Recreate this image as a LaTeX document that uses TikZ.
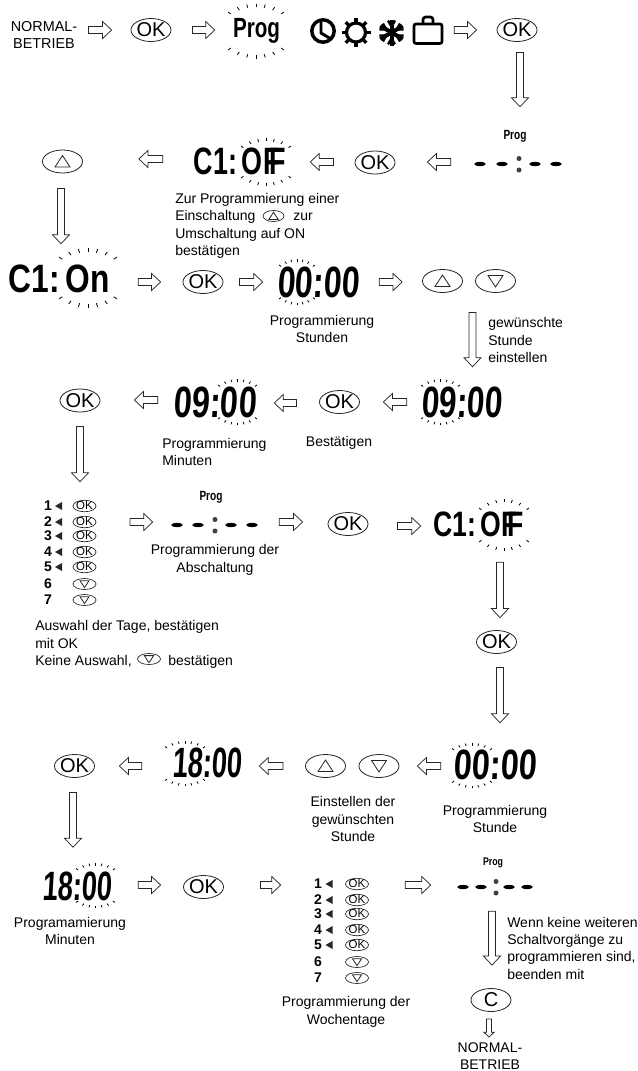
\documentclass[tikz,border=0pt]{standalone}
\usepackage{fontspec}
\usepackage{graphicx}
\setmainfont{Liberation Sans}
\usetikzlibrary{calc,shapes.geometric}
\newdimen\px \px=.75pt
\newcommand\okt{\makebox[0pt]{OK}}
\newcommand\okts{\makebox[0pt]{\fontsize{8.6}{8.6}\selectfont OK}}
\tikzset{
  ink/.style={draw=black!85},
  blk/.style n args={3}{ink,line width=.55pt,fill=white,line join=miter,to path={
    ($(\tikztostart)!#1!90:(\tikztotarget)$)
    -- ($(\tikztotarget)!#3!(\tikztostart)!#1!90:(\tikztotarget)$)
    -- ($(\tikztotarget)!#3!(\tikztostart)!#2!90:(\tikztotarget)$)
    -- (\tikztotarget)
    -- ($(\tikztotarget)!#3!(\tikztostart)!#2!-90:(\tikztotarget)$)
    -- ($(\tikztotarget)!#3!(\tikztostart)!#1!-90:(\tikztotarget)$)
    -- ($(\tikztostart)!#1!-90:(\tikztotarget)$) -- cycle}},
  blkn/.style={blk={2.625pt}{6.375pt}{6.75pt}},
  blks/.style={blk={1.9pt}{3.8pt}{3.75pt}},
  btn/.style={ellipse,ink,line width=.6pt,minimum width=40\px,minimum height=23\px,inner sep=0pt,font=\fontsize{15}{15}\selectfont},
  btns/.style={ellipse,ink,line width=.5pt,minimum width=23\px,minimum height=11\px,inner sep=0pt},
  tri/.style={ink,line width=.6pt,line join=miter},
  txt/.style={inner sep=0pt,font=\fontsize{10.5}{13}\selectfont},
  lcd/.style={inner sep=0pt,xslant=.06,font=\bfseries\fontsize{30}{30}\selectfont},
  big/.style={inner sep=0pt,font=\bfseries\fontsize{30}{30}\selectfont},
  blank/.style={inner sep=0pt,minimum width=#1\px},
  ray/.style={draw=black,line width=.6pt},
  icon/.style={draw=black,line width=2.6pt},
  dayn/.style={inner sep=0pt,font=\bfseries\fontsize{10.5}{10.5}\selectfont}
}
% box of the exact width and height (px) holding real text
\newcommand\fitbox[3]{\resizebox*{#1\px}{#2\px}{#3}}
\newcommand\hconn[5]{% a, gap, b, gap, y ; left to right
  \coordinate (cs) at ($(#1.east |- 0,#5)+(#2,0)$);
  \coordinate (ce) at ($(#3.west |- 0,#5)+(-#4,0)$);
  \draw[blkn] (cs) to (ce);}
\newcommand\lconn[5]{% right to left
  \coordinate (cs) at ($(#1.west |- 0,#5)+(-#2,0)$);
  \coordinate (ce) at ($(#3.east |- 0,#5)+(#4,0)$);
  \draw[blkn] (cs) to (ce);}
\newcommand\vconn[6][blkn]{% a, gap, b, gap, x ; downwards
  \coordinate (cs) at ($(#2.south -| #6,0)+(0,#3)$);
  \coordinate (ce) at ($(#4.north -| #6,0)+(0,-#5)$);
  \draw[#1] (cs) to (ce);}
\newcommand\rays[6]{%
  \foreach \t in {-1,-.667,-.333,0,.333,.667,1}{
    \pgfmathsetmacro\hh{#4-(#4-#5)*\t*\t}
    \pgfmathsetmacro\aa{\t*55}
    \draw[ray] ({#1+#3*\t},{#2-\hh}) -- ++({-#6*sin(\aa)},{#6*cos(\aa)});
    \draw[ray] ({#1+#3*\t},{#2+\hh}) -- ++({-#6*sin(\aa)},{-#6*cos(\aa)});
  }}
\newcommand\uptri[2][1]{\draw[tri,scale around={#1:(#2.center)}] ($(#2.center)+(-7.5,5.5)$) -- ($(#2.center)+(7.5,5.5)$) -- ($(#2.center)+(0,-6)$) -- cycle;}
\newcommand\dntri[2][1]{\draw[tri,scale around={#1:(#2.center)}] ($(#2.center)+(-7.5,-5.5)$) -- ($(#2.center)+(7.5,-5.5)$) -- ($(#2.center)+(0,6)$) -- cycle;}
\newcommand\dashrow[9]{% name,cx,cy,a,b,c,d,e,scale
  \node[blank=#9,minimum height=16\px] (#1) at (#2,#3) {};
  \foreach \q in {#4,#5,#7,#8}{
    \fill[black] ({#2+\q},#3) ellipse [x radius=5.8,y radius=2.1];}
  \fill[black!75] ({#2+#6},{#3-5.5}) circle [radius=2.5];
  \fill[black!75] ({#2+#6},{#3+6}) circle [radius=2.5];}
\newcommand\daylist[5]{% name,xdigit,xtri,xbtn,ytop (px of first row)
  \node[blank=55,minimum height=110\px] (#1) at ({(#2+#4)/2+2},{#5+47}) {};
  \foreach \i/\dy in {1/0,2/16,3/30,4/46,5/61,6/78,7/94}{
    \node[dayn] (#1d\i) at (#2,{#5+\dy}) {\i};
    \ifnum\i<6
      \fill[black!85] (#3-3.5,{#5+\dy}) -- (#3+3.5,{#5+\dy-4}) -- (#3+3.5,{#5+\dy+4}) -- cycle;
      \node[btns] (#1b\i) at (#4,{#5+\dy}) {\okts};
    \else
      \node[btns] (#1b\i) at (#4,{#5+\dy}) {};
      \dntri[.6]{#1b\i}
    \fi
  }}
\begin{document}
\begin{tikzpicture}[x=.75pt,y=-.75pt]
\useasboundingbox (0,0) rectangle (638,1071);
\fill[white] (0,0) rectangle (638,1071);
% --- row 1
\node[txt,align=center,font=\fontsize{10.8}{13}\selectfont] (norm1) at (44,35) {NORMAL-\\BETRIEB};
\node[btn] (ok1) at (151,30) {\okt};
\node[inner sep=0pt] (prog1) at (256.5,31) {\fitbox{47}{25}{\bfseries Prog}};
\rays{256}{31}{28}{27.5}{19}{3.5}
% icons
\node[blank=26,minimum height=26\px] (clock) at (323,31) {};
\draw[icon] (clock.center) circle [radius=11.2];
\draw[icon,line width=2.2pt,line join=round] (321,20) -- (321,33) -- (331,39);
\node[blank=30,minimum height=30\px] (sun) at (356,32.5) {};
\draw[icon,line width=2.4pt] (sun.center) circle [radius=9.5];
\foreach \a in {0,45,...,315}{\draw[icon,line width=2.4pt] ($(sun.center)+(\a:10)$) -- ($(sun.center)+(\a:14.5)$);}
\node[blank=26,minimum height=29\px] (snow) at (391.5,32.5) {};
\foreach \a in {30,90,150}{
  \draw[icon,line width=3pt] ($(snow.center)+(\a:13)$) -- ($(snow.center)+(\a+180:13)$);}
\foreach \a in {30,90,150,210,270,330}{
  \draw[icon,line width=1.8pt] ($(snow.center)+(\a:9)+(\a+50:4.5)$) -- ($(snow.center)+(\a:6)$) -- ($(snow.center)+(\a:9)+(\a-50:4.5)$);}
\node[blank=30,minimum height=28\px] (suit) at (428,30) {};
\draw[icon,line width=2pt,rounded corners=1.5pt] (414,24) rectangle (442,43.5);
\draw[icon,line width=2pt,rounded corners=2pt] (423,24) -- (423,17) -- (433,17) -- (433,24);
\node[btn] (ok2) at (517,30) {\okt};
\hconn{norm1}{11}{ok1}{19}{30}
\hconn{ok1}{21}{prog1}{18}{30}
\hconn{suit}{11}{ok2}{20}{30}
% --- row 2
\node[inner sep=0pt] (prog2) at (515,136) {\fitbox{23}{12}{\bfseries Prog}};
\dashrow{dash1}{518.5}{164}{-38.5}{-16.5}{.5}{16.5}{37.5}{87}
\vconn{ok2}{10.5}{prog2}{23}{520}
\node[btn] (okA) at (375,162.5) {\okt};
\node[inner sep=0pt] (coff1) at (240,161.5) {\fitbox{92}{27}{\bfseries C1:\,O\kern.02emF\kern-.38emF}};
\rays{266}{162}{25}{24}{16}{3}
\node[btn] (up1) at (62.5,161.5) {};
\uptri{up1}
\lconn{dash1}{24}{okA}{32}{162}
\lconn{okA}{21}{coff1}{24}{162}
\lconn{coff1}{31}{up1}{56}{159}
\node[txt,align=left,anchor=west] (tzur) at (175,226) {Zur Programmierung einer\\Einschaltung\hspace{25.5pt} zur\\Umschaltung auf ON\\bestätigen};
\node[btns,minimum width=21\px] (bzur) at (273.5,216) {};
\uptri[.62]{bzur}
% --- row 3
\node[inner sep=0pt] (con1) at (59.5,279) {\fitbox{101}{28}{\bfseries C1:\,O\kern.02emn}};
\rays{88}{278}{29}{30}{21}{4}
\vconn{up1}{15}{con1}{21}{61}
\node[btn] (okB) at (203,282) {\okt};
\node[lcd] (t00a) at (319,282) {\fitbox{82}{31}{00:00}};
\rays{297}{282}{18}{23}{17}{2.5}
\node[btn] (upB) at (442.5,281) {};
\uptri{upB}
\node[btn] (dnB) at (495.5,281) {};
\dntri{dnB}
\hconn{con1}{28}{okB}{22}{282}
\hconn{okB}{16}{t00a}{15}{282}
\hconn{t00a}{19}{upB}{20}{282}
\node[txt,align=center] (tstd) at (322,329) {Programmierung\\Stunden};
\node[txt,align=left,anchor=west] (tgew) at (488,340) {gewünschte\\Stunde\\einstellen};
% --- row 4
\node[lcd] (t09a) at (462.5,402.5) {\fitbox{81}{31}{09:00}};
\rays{440.5}{402}{19.5}{23}{17}{2.5}
\vconn{dnB}{19.5}{t09a}{20}{472.5}
\node[btn] (okC) at (339.5,402) {\okt};
\node[lcd] (t09b) at (215.5,402) {\fitbox{83}{31}{09:00}};
\rays{237.5}{402}{19.5}{23}{17}{2.5}
\node[btn] (okD) at (80,400.5) {\okt};
\lconn{t09a}{15}{okC}{23.5}{402}
\lconn{okC}{22.5}{t09b}{17}{403}
\lconn{t09b}{16}{okD}{34}{400}
\node[txt,align=left,anchor=west] (tmin) at (162,452) {Programmierung\\Minuten};
\node[txt] (tbes) at (339,443) {Bestätigen};
% --- row 5
\daylist{days1}{48}{58.5}{84.5}{506}
\vconn{okD}{14}{days1}{16}{80}
\node[inner sep=0pt] (prog3) at (211,497) {\fitbox{23}{12}{\bfseries Prog}};
\dashrow{dash2}{214.5}{525}{-37.5}{-16.5}{.5}{16.5}{37.5}{87}
\node[txt,align=center] (tabs) at (215,560) {Programmierung der\\Abschaltung};
\node[btn] (okE) at (348,524) {\okt};
\node[inner sep=0pt] (coff2) at (478.5,524.5) {\fitbox{91}{25}{\bfseries C1:\,O\kern.02emF\kern-.38emF}};
\rays{504}{525}{25}{26}{17}{3}
\node[btn] (okF) at (496.5,642) {\okt};
\hconn{days1}{34}{dash2}{18}{522}
\hconn{dash2}{21}{okE}{25}{522}
\hconn{okE}{29}{coff2}{12}{526}
\vconn{coff2}{25}{okF}{12.5}{500}
\node[txt,align=left,anchor=west] (taus) at (35,644.5) {Auswahl der Tage, bestätigen\\mit OK\\Keine Auswahl,\hspace{24.5pt} bestätigen};
\node[btns] (baus) at (149,659) {};
\dntri[.62]{baus}
% --- row 7
\node[lcd] (t00b) at (495.5,765) {\fitbox{83}{30}{00:00}};
\rays{472}{765.5}{20}{22.5}{17}{2.5}
\vconn{okF}{13.5}{t00b}{27}{500}
\node[btn] (dnC) at (379,766) {};
\dntri{dnC}
\node[btn] (upC) at (325.5,766) {};
\uptri{upC}
\node[lcd] (t18a) at (208,763) {\fitbox{70}{30}{18:00}};
\rays{185}{763.5}{20}{22.5}{17}{2.5}
\node[btn] (okG) at (74.5,766) {\okt};
\lconn{t00b}{13}{dnC}{18}{766}
\lconn{upC}{22}{t18a}{16}{766}
\lconn{t18a}{31}{okG}{24.5}{766}
\node[txt,align=center] (tein) at (353,819) {Einstellen der\\gewünschten\\Stunde};
\node[txt,align=center] (tstu) at (495,819) {Programmierung\\Stunde};
% --- row 8
\node[lcd] (t18b) at (78,886) {\fitbox{70}{29}{18:00}};
\rays{95.5}{885.5}{19.5}{22.5}{17}{2.5}
\vconn{okG}{14.5}{t18b}{24}{73}
\node[btn] (okH) at (203.5,887) {\okt};
\daylist{days2}{318}{329}{357}{884}
\node[inner sep=0pt] (prog4) at (493,863) {\fitbox{20}{10}{\bfseries Prog}};
\dashrow{dash3}{495}{887}{-32}{-14}{1}{14}{32}{76}
\hconn{t18b}{25}{okH}{22.5}{885}
\hconn{okH}{36.5}{days2}{31}{885}
\hconn{days2}{38}{dash3}{26}{885}
\node[txt,align=center] (tprg) at (70,931) {Programamierung\\Minuten};
\node[txt,align=center] (twoc) at (346,1012) {Programmierung der\\Wochentage};
\node[txt,align=left,anchor=west] (twen) at (507,948) {Wenn keine weiteren\\Schaltvorgänge zu\\programmieren sind,\\beenden mit};
\node[btn] (bC) at (491,1000) {\makebox[0pt]{C}};
\vconn{dash3}{16}{bC}{23}{492}
\node[txt,align=center] (norm2) at (490,1056) {NORMAL-\\BETRIEB};
\vconn[blks]{bC}{7}{norm2}{5}{489}
\end{tikzpicture}
\end{document}
